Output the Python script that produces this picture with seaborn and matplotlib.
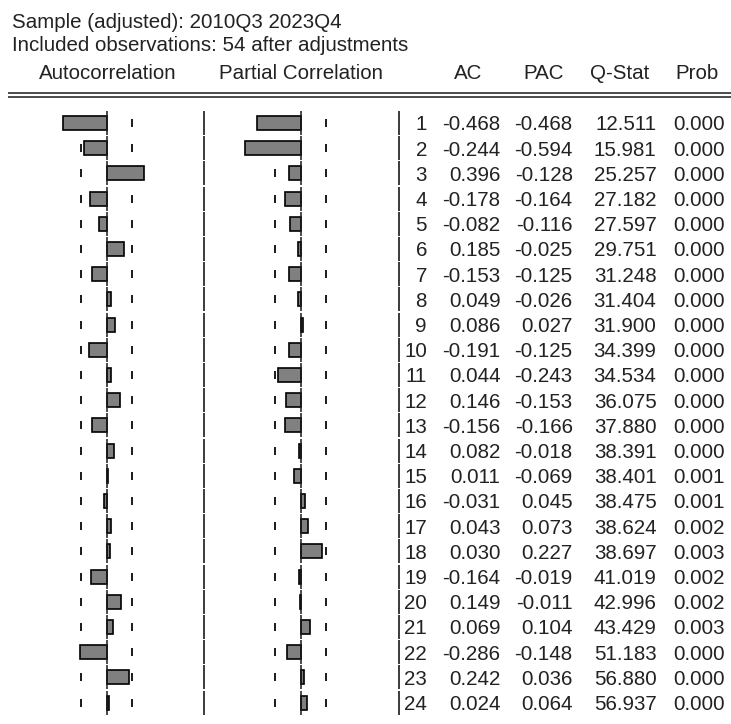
import numpy as np
import pandas as pd
import matplotlib
matplotlib.use("Agg")
import matplotlib.pyplot as plt
import seaborn as sns

# ---------------- data ----------------
title_lines = ["Sample (adjusted): 2010Q3 2023Q4",
               "Included observations: 54 after adjustments"]
panel_headers = ["Autocorrelation", "Partial Correlation"]
col_headers = ["AC", "PAC", "Q-Stat", "Prob"]
n_obs = 54

lags = list(range(1, 25))
ac = [-0.468, -0.244, 0.396, -0.178, -0.082, 0.185, -0.153, 0.049, 0.086, -0.191,
      0.044, 0.146, -0.156, 0.082, 0.011, -0.031, 0.043, 0.030, -0.164, 0.149,
      0.069, -0.286, 0.242, 0.024]
pac = [-0.468, -0.594, -0.128, -0.164, -0.116, -0.025, -0.125, -0.026, 0.027, -0.125,
       -0.243, -0.153, -0.166, -0.018, -0.069, 0.045, 0.073, 0.227, -0.019, -0.011,
       0.104, -0.148, 0.036, 0.064]
qstat = [12.511, 15.981, 25.257, 27.182, 27.597, 29.751, 31.248, 31.404, 31.900, 34.399,
         34.534, 36.075, 37.880, 38.391, 38.401, 38.475, 38.624, 38.697, 41.019, 42.996,
         43.429, 51.183, 56.880, 56.937]
prob = [0.000, 0.000, 0.000, 0.000, 0.000, 0.000, 0.000, 0.000, 0.000, 0.000,
        0.000, 0.000, 0.000, 0.000, 0.001, 0.001, 0.002, 0.003, 0.002, 0.002,
        0.003, 0.000, 0.000, 0.000]

df = pd.DataFrame({"lag": lags, "ac": ac, "pac": pac})
conf = 2.0 / np.sqrt(n_obs)

# ---------------- style ----------------
sns.set_style("white")
plt.rcParams["font.family"] = ["Liberation Sans", "DejaVu Sans"]
FS = 14.8
TXT = "#222222"
LINE = "#1a1a1a"
BAR = "#808080"

W, H = 731, 724
fig = plt.figure(figsize=(W / 100, H / 100), dpi=100)


def px_axes(x0, x1, y0, y1):
    return fig.add_axes([x0 / W, 1 - y1 / H, (x1 - x0) / W, (y1 - y0) / H])


row0, step = 123.0, 25.2
top = row0 - step / 2
bottom = row0 + (len(lags) - 0.5) * step
scale = 93.5  # px per correlation unit

# overlay for titles / header / rules
ov = px_axes(0, W, 0, H)
ov.set_xlim(0, W)
ov.set_ylim(H, 0)
ov.set_axis_off()
ov.text(12, 28, title_lines[0], fontsize=FS, color=TXT, va="baseline", ha="left")
ov.text(12, 51, title_lines[1], fontsize=FS, color=TXT, va="baseline", ha="left")
ov.text(107.6, 79, panel_headers[0], fontsize=FS, color=TXT, va="baseline", ha="center")
ov.text(300.7, 79, panel_headers[1], fontsize=FS, color=TXT, va="baseline", ha="center")
for xc, lab in zip([468, 544, 620, 697], col_headers):
    ov.text(xc, 79, lab, fontsize=FS, color=TXT, va="baseline", ha="center")
ov.hlines([93, 97], 8, W, color=LINE, lw=1.1)

n = len(lags)
ypos = np.arange(n)


def corr_panel(x0, x1, zero_px, col):
    ax = px_axes(x0, x1, top, bottom)
    sns.barplot(data=df, x=col, y="lag", orient="h", ax=ax, color=BAR, saturation=1,
                edgecolor="black", linewidth=1.2, width=0.56, errorbar=None, zorder=3)
    lo = (x0 - zero_px) / scale
    hi = (x1 - zero_px) / scale
    ax.set_xlim(lo, hi)
    ax.set_ylim(n - 0.5, -0.5)
    # confidence band dashes
    ax.vlines(np.full(n, -conf), ypos - 0.16, ypos + 0.16, color=LINE, lw=1.4, zorder=2)
    ax.vlines(np.full(n, conf), ypos - 0.16, ypos + 0.16, color=LINE, lw=1.4, zorder=2)
    # zero line (segmented)
    ax.vlines(np.zeros(n), ypos - 0.48, ypos + 0.48, color=LINE, lw=1.1, zorder=4)
    # right separator (segmented)
    ax.vlines(np.full(n, hi), ypos - 0.48, ypos + 0.48, color=LINE, lw=1.2,
              zorder=4, clip_on=False)
    ax.set_axis_off()
    return ax


corr_panel(0, 204, 106.7, "ac")
corr_panel(204, 399, 300.7, "pac")

# table of numbers
tab = px_axes(399, W, top, bottom)
tab.set_xlim(399, W)
tab.set_ylim(n - 0.5, -0.5)
tab.set_axis_off()
for i in range(n):
    kw = dict(fontsize=FS, color=TXT, va="center_baseline", ha="right")
    tab.text(427, i, str(lags[i]), **kw)
    tab.text(500.5, i, f"{ac[i]:.3f}", **kw)
    tab.text(572.7, i, f"{pac[i]:.3f}", **kw)
    tab.text(656.5, i, f"{qstat[i]:.3f}", **kw)
    tab.text(725, i, f"{prob[i]:.3f}", **kw)

fig.savefig("out.png", dpi=100, facecolor="white")
